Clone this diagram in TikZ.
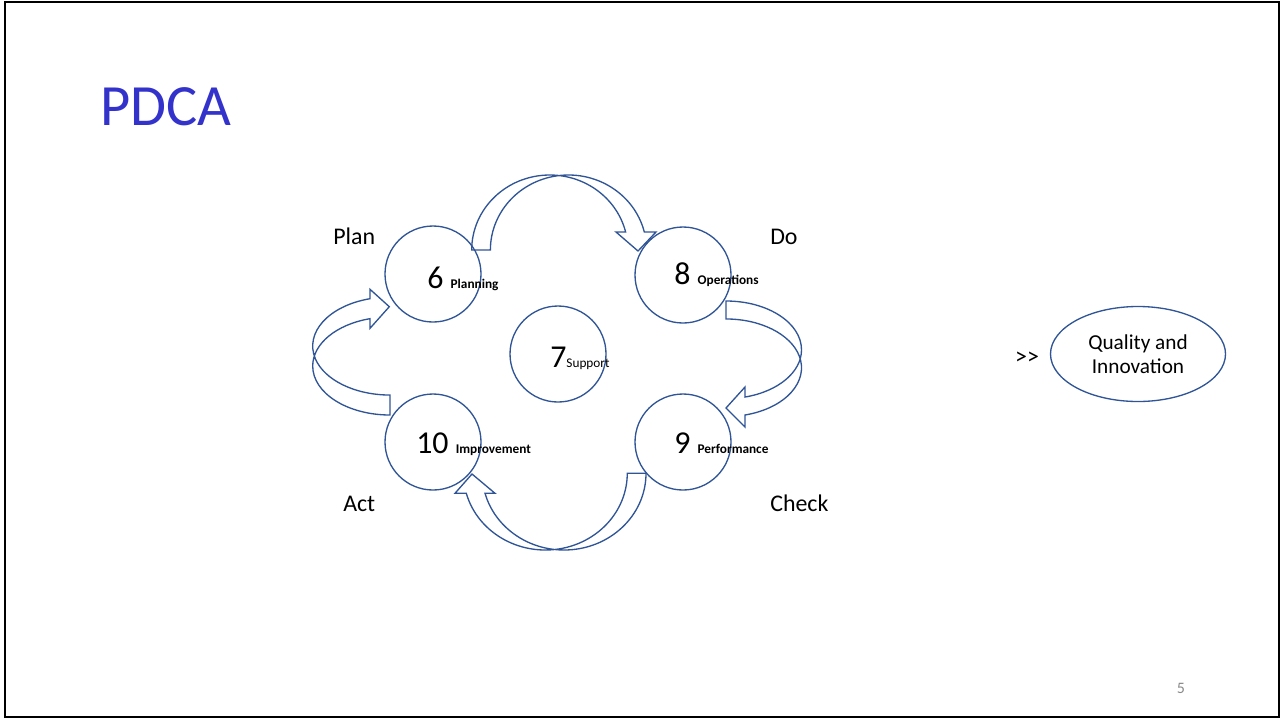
\documentclass[tikz,border=0pt]{standalone}
\usepackage{fontspec}
\setmainfont{Carlito}
\usepackage{tikz}
\usetikzlibrary{shapes.geometric}
\definecolor{pdcablue}{RGB}{47,85,151}
\definecolor{titleblue}{RGB}{51,51,204}
\definecolor{pagegray}{RGB}{137,137,137}
\newcommand{\stagenum}[1]{{\fontsize{24}{24}\selectfont #1}}
\newcommand{\stagename}[1]{{\fontsize{10}{10}\selectfont\bfseries #1}}
\newcommand{\stagenote}[1]{{\fontsize{10}{10}\selectfont #1}}

\begin{document}
\begin{tikzpicture}[x=0.75bp, y=-0.75bp,
  stage/.style={circle, draw=pdcablue, line width=1bp, minimum size=72bp, inner sep=0pt},
  cyclearrow/.style={draw=pdcablue, line width=1bp, line join=miter},
  phase/.style={font=\fontsize{18}{18}\selectfont, anchor=base west, inner sep=0pt},
  stagelabel/.style={anchor=base west, inner sep=0pt}]
  \useasboundingbox (0,0) rectangle (1281,719);
  \draw[line width=1.5bp] (4.5,1.8) rectangle (1279,717);
  \node[anchor=base west, inner sep=0pt, text=titleblue, font=\fontsize{44}{44}\selectfont] (title) at (100,125) {PDCA};

  \node[stage] (planning) at (433,274) {};
  \node[stage] (operations) at (683,275) {};
  \node[stage] (support) at (558,354) {};
  \node[stage] (performance) at (683,442) {};
  \node[stage] (improvement) at (433,442) {};

  \draw[cyclearrow] (471.7,250) arc[start angle=180, end angle=346.11, x radius=78.1, y radius=75]
    -- (616,232) -- (638,251) -- (656,232) -- (644.3,232)
    arc[start angle=346.11, end angle=180, x radius=78.1, y radius=75] -- cycle;
  \draw[cyclearrow] (726,301) arc[start angle=270, end angle=435.42, x radius=75.5, y radius=48.8]
    -- (745,387) -- (726,408) -- (745,427) -- (745,415)
    arc[start angle=435.42, end angle=270, x radius=75.5, y radius=48.8] -- cycle;
  \draw[cyclearrow] (646,473.3) arc[start angle=0, end angle=164.88, x radius=81.9, y radius=76.7]
    -- (495,493.3) -- (472,474) -- (455,493.3) -- (466.3,493.3)
    arc[start angle=164.88, end angle=0, x radius=81.9, y radius=76.7] -- cycle;
  \draw[cyclearrow] (390,415) arc[start angle=90, end angle=255, x radius=77.3, y radius=49]
    -- (370,328.3) -- (389.3,306.7) -- (370,289.3) -- (370,298.7)
    arc[start angle=255, end angle=90, x radius=77.3, y radius=49] -- cycle;

  \node[stagelabel] (planning-text) at (427,288) {\stagenum{6 }\stagename{Planning}};
  \node[stagelabel] (operations-text) at (674,284) {\stagenum{8 }\stagename{Operations}};
  \node[stagelabel] (support-text) at (550,367) {\stagenum{7}\stagenote{Support}};
  \node[stagelabel] (improvement-text) at (416,453) {\stagenum{10 }\stagename{Improvement}};
  \node[stagelabel] (performance-text) at (674,453) {\stagenum{9 }\stagename{Performance}};

  \node[phase] (plan) at (333,244) {Plan};
  \node[phase] (do) at (770,244) {Do};
  \node[phase] (act) at (343,511) {Act};
  \node[phase] (check) at (770,511) {Check};

  \node[ellipse, draw=pdcablue, line width=1bp, minimum width=131.25bp, minimum height=71.25bp,
    align=center, font=\fontsize{16}{18}\selectfont, inner sep=0pt] (quality) at (1138,354) {Quality and\\Innovation};
  \node[font=\fontsize{18}{18}\selectfont, inner sep=0pt] (pointer) at (1027,358) {>{}>};
  \node[font=\fontsize{12}{12}\selectfont, text=pagegray, anchor=base, inner sep=0pt] (pagenum) at (1181,693) {5};
\end{tikzpicture}
\end{document}
